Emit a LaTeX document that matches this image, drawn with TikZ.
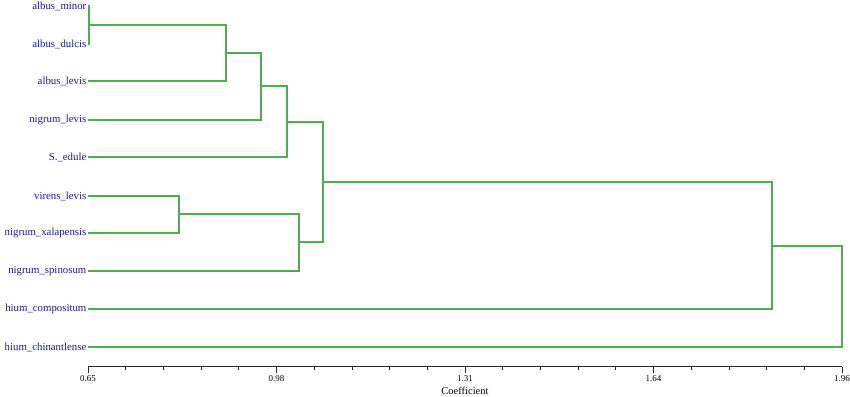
\documentclass[tikz,border=0pt]{standalone}
\usepackage{fontspec}
\setmainfont{Liberation Serif}
\definecolor{dgreen}{RGB}{80,172,80}
\definecolor{navy}{RGB}{25,25,135}
\tikzset{
  leaf/.style={anchor=east, inner xsep=1.5pt, inner ysep=0pt, text=navy, font=\fontsize{10.8}{12}\selectfont},
  branch/.style={draw=dgreen, line width=1.1pt},
  axisline/.style={draw=black!85, line width=0.8pt},
  ticklab/.style={anchor=north, inner sep=0pt, font=\fontsize{9}{10}\selectfont},
  axtitle/.style={inner sep=0pt, font=\fontsize{10.5}{12}\selectfont},
}
\begin{document}
\begin{tikzpicture}[x=1pt,y=-1pt]
\useasboundingbox (0,0) rectangle (850,396);
% leaves
\node[leaf] (t1) at (88,6) {albus\_minor};
\node[leaf] (t2) at (88,44) {albus\_dulcis};
\node[leaf] (t3) at (88,81) {albus\_levis};
\node[leaf] (t4) at (88,120) {nigrum\_levis};
\node[leaf] (t5) at (88,157) {S.\_edule};
\node[leaf] (t6) at (88,196) {virens\_levis};
\node[leaf] (t7) at (88,233) {nigrum\_xalapensis};
\node[leaf] (t8) at (88,271) {nigrum\_spinosum};
\node[leaf] (t9) at (88,309) {hium\_compositum};
\node[leaf] (t10) at (88,347) {hium\_chinantlense};
% cluster joins
\coordinate (c1) at (89,25);
\coordinate (c2) at (226,53);
\coordinate (c3) at (261,86);
\coordinate (c4) at (287,122);
\coordinate (c5) at (179,214);
\coordinate (c6) at (299,242);
\coordinate (c7) at (323,182);
\coordinate (c8) at (772,246);
\coordinate (c9) at (842,296.5);
\draw[branch] (t1.east) -| (c1) |- (t2.east);
\draw[branch] (c1) -| (c2) |- (t3.east);
\draw[branch] (c2) -| (c3) |- (t4.east);
\draw[branch] (c3) -| (c4) |- (t5.east);
\draw[branch] (t6.east) -| (c5) |- (t7.east);
\draw[branch] (c5) -| (c6) |- (t8.east);
\draw[branch] (c4) -| (c7) |- (c6);
\draw[branch] (c7) -| (c8) |- (t9.east);
\draw[branch] (c8) -| (c9) |- (t10.east);
% axis
\coordinate (a0) at (88,366.5);
\coordinate (a1) at (842,366.5);
\draw[axisline] (a0) -- (a1);
\foreach \i in {0,...,20}{
  \pgfmathsetmacro{\xx}{88+\i*37.7}
  \pgfmathtruncatemacro{\m}{mod(\i,5)}
  \ifnum\m=0
    \draw[axisline] (\xx,366.5) -- (\xx,373);
  \else
    \draw[axisline] (\xx,366.5) -- (\xx,370);
  \fi
}
\node[ticklab] (k0) at (88,375) {0.65};
\node[ticklab] (k1) at (276.5,375) {0.98};
\node[ticklab] (k2) at (465,375) {1.31};
\node[ticklab] (k3) at (653.5,375) {1.64};
\node[ticklab] (k4) at (842,375) {1.96};
\node[axtitle] (xl) at (465,391) {Coefficient};
\end{tikzpicture}
\end{document}
